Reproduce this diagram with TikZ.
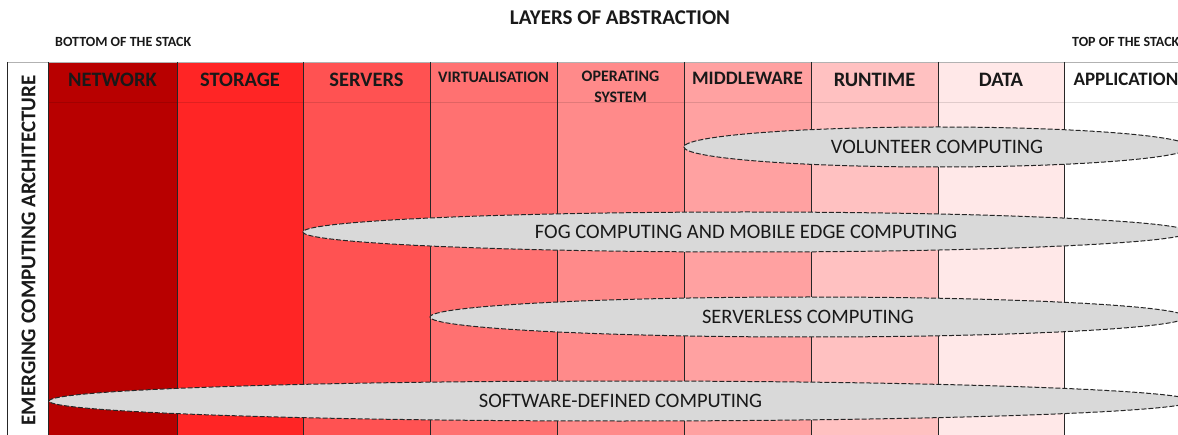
\documentclass[tikz,border=0pt]{standalone}
\usepackage{fontspec}
\setmainfont{Carlito}
\usetikzlibrary{shapes.geometric}

\definecolor{netred}{RGB}{184,0,0}
\definecolor{storagered}{RGB}{255,37,37}
\definecolor{serverred}{RGB}{255,82,82}
\definecolor{virtred}{RGB}{255,113,113}
\definecolor{osred}{RGB}{255,138,138}
\definecolor{midred}{RGB}{255,161,161}
\definecolor{runred}{RGB}{255,193,193}
\definecolor{datared}{RGB}{255,232,232}
\definecolor{archgray}{RGB}{217,217,217}
\definecolor{inkgray}{RGB}{25,25,25}

\tikzset{
    layer/.style={minimum width=127pt, minimum height=380pt,
        inner sep=0pt, outer sep=0pt},
    headbig/.style={font=\fontsize{20.5}{24}\selectfont\bfseries, text=inkgray},
    headmid/.style={font=\fontsize{19}{22}\selectfont\bfseries, text=inkgray},
    headsmall/.style={font=\fontsize{16}{21}\selectfont\bfseries,
        align=center, text=inkgray},
    arch/.style={ellipse, draw=black!85, fill=archgray,
        dash pattern=on 5pt off 2pt, line width=1pt,
        minimum height=40pt, inner sep=0pt,
        font=\fontsize{20.5}{24}\selectfont, text=inkgray},
    sepline/.style={draw=black!85, line width=0.7pt},
}

\begin{document}
\begin{tikzpicture}[x=1pt, y=1pt]
        \useasboundingbox (0,0) rectangle (1178,434);

        % title
        \node [font=\fontsize{21}{24}\selectfont\bfseries, text=inkgray]
            (title) at (620,416) {LAYERS OF ABSTRACTION};
        \node [font=\fontsize{14}{17}\selectfont\bfseries, text=inkgray,
            anchor=west, inner sep=0pt] (bottomstack) at (55,392) {BOTTOM OF THE STACK};
        \node [font=\fontsize{14}{17}\selectfont\bfseries, text=inkgray,
            anchor=west, inner sep=0pt] (topstack) at (1072,392) {TOP OF THE STACK};

        % left box
        \node [minimum width=41pt, minimum height=380pt,
            inner sep=0pt, outer sep=0pt] (archbox) at (27.5,182) {};
        \node [rotate=90, font=\fontsize{21}{24}\selectfont\bfseries, text=inkgray]
            (archtext) at (28.5,183.5) {EMERGING COMPUTING ARCHITECTURE};

        % layers
        \node [layer, fill=netred, minimum width=129pt] (network) at (112.5,182) {};
        \node [layer, fill=storagered, minimum width=126pt] (storage) at (240,182) {};
        \node [layer, fill=serverred] (servers) at (366.5,182) {};
        \node [layer, fill=virtred] (virt) at (493.5,182) {};
        \node [layer, fill=osred] (os) at (620.5,182) {};
        \node [layer, fill=midred] (middleware) at (747.5,182) {};
        \node [layer, fill=runred] (runtime) at (874.5,182) {};
        \node [layer, fill=datared] (data) at (1001,182) {};
        \node [layer, fill=white] (application) at (1127.5,182) {};

        % header row
        \draw [black, opacity=0.12, line width=1pt]
            ([yshift=-41pt]network.north west) -- ([yshift=-41pt]application.north east);
        \draw [draw=black!30, line width=0.8pt]
            (archbox.north west) -- (application.north east);
        \draw [sepline] (archbox.north west) -- (archbox.south west);
        \draw [sepline] (archbox.north east) -- (archbox.south east)
            (network.north east) -- (network.south east)
            (storage.north east) -- (storage.south east)
            (servers.north east) -- (servers.south east)
            (virt.north east) -- (virt.south east)
            (os.north east) -- (os.south east)
            (middleware.north east) -- (middleware.south east)
            (runtime.north east) -- (runtime.south east)
            (data.north east) -- (data.south east);

        % headers
        \node [headbig] (networkhead) at ([yshift=-18pt]network.north) {NETWORK};
        \node [headbig] (storagehead) at ([yshift=-18pt]storage.north) {STORAGE};
        \node [headbig] (servershead) at ([yshift=-18pt]servers.north) {SERVERS};
        \node [headsmall] (virthead) at ([yshift=-15pt]virt.north) {VIRTUALISATION};
        \node [headsmall] (oshead) at ([yshift=-24.5pt]os.north) {OPERATING\\SYSTEM};
        \node [headmid] (middlewarehead) at ([yshift=-16pt]middleware.north) {MIDDLEWARE};
        \node [headbig] (runtimehead) at ([yshift=-18pt]runtime.north) {RUNTIME};
        \node [headbig] (datahead) at ([yshift=-18pt]data.north) {DATA};
        \node [headmid, anchor=west] (applicationhead)
            at ([xshift=6pt, yshift=-17pt]application.north west) {APPLICATION};

        % computing architectures
        \node [arch, minimum width=506pt] (volunteer) at (937,287) {VOLUNTEER COMPUTING};
        \node [arch, minimum width=886pt] (fog) at (746,202)
            {FOG COMPUTING AND MOBILE EDGE COMPUTING};
        \node [arch, minimum width=756pt] (serverless) at (808,117) {SERVERLESS COMPUTING};
        \node [arch, minimum width=1143pt] (softdef) at (620.5,33)
            {SOFTWARE-DEFINED COMPUTING};
\end{tikzpicture}
\end{document}
